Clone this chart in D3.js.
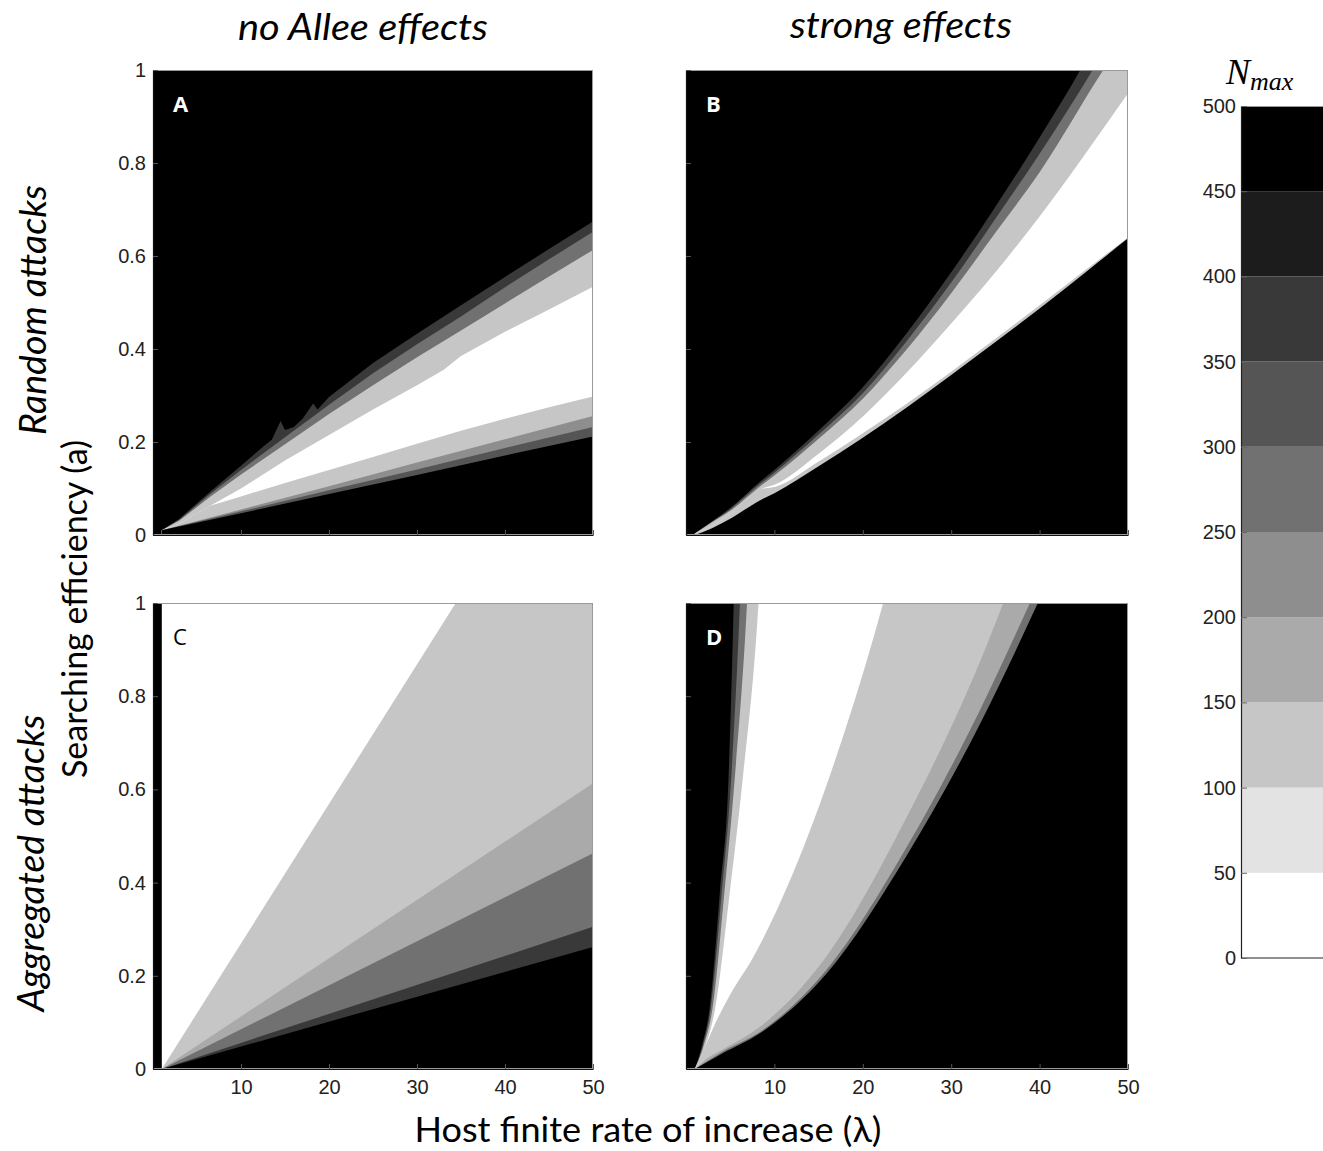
<!DOCTYPE html>
<html><head><meta charset="utf-8">
<script src="https://cdn.jsdelivr.net/npm/d3@7"></script>
<style>body{margin:0;background:#fff}</style>
</head><body>
<svg id="chart" width="1323" height="1151" xmlns="http://www.w3.org/2000/svg"></svg>
<script>
// ---------------- DATA ----------------
const nmaxBreaks = [50, 100, 150, 200, 250, 300, 350, 400, 450];
const nmaxTicks = [0, 50, 100, 150, 200, 250, 300, 350, 400, 450, 500];
const nmaxBands = [[0,50],[50,100],[100,150],[150,200],[200,250],[250,300],[300,350],[350,400],[400,450],[450,500]];
const xTicks = [10, 20, 30, 40, 50];
const yTicks = [0, 0.2, 0.4, 0.6, 0.8, 1];
const yTickLabels = ["0", "0.2", "0.4", "0.6", "0.8", "1"];
const columnTitles = ["no Allee effects", "strong effects"];
const rowTitles = ["Random attacks", "Aggregated attacks"];
const panelLetters = ["A", "B", "C", "D"];

// Each panel: boundary curves a(λ), ordered from top to bottom; the region
// below each boundary gets the Nmax value listed in the matching *_fills array.
// Panel A
const A_fills = [375, 275, 125, 25, 125, 225, 325, 475];
const A_e1 = [[1,0.01],[3,0.035],[6.5,0.093],[10,0.149],[12.5,0.19],[13.5,0.205],[14.5,0.245],[15,0.226],[16,0.232],[17,0.25],[18.2,0.283],[18.7,0.27],[20,0.297],[25,0.37],[30,0.433],[35,0.494],[40,0.555],[45,0.615],[50,0.674]];
const A_e2 = [[1,0.01],[3,0.033],[6.5,0.088],[10,0.14],[15,0.21],[20,0.28],[25,0.348],[30,0.41],[35,0.47],[40,0.533],[45,0.593],[50,0.652]];
const A_e3 = [[1,0.01],[3,0.031],[6.5,0.082],[10,0.13],[15,0.195],[20,0.26],[25,0.322],[30,0.382],[35,0.44],[40,0.498],[45,0.556],[50,0.613]];
const A_e4 = [[1,0.01],[3,0.025],[6.5,0.063],[10,0.1],[15,0.16],[20,0.215],[25,0.27],[30,0.322],[33,0.355],[35,0.385],[40,0.437],[45,0.485],[50,0.534]];
const A_e5 = [[1,0.01],[3,0.025],[6.5,0.063],[10,0.083],[15,0.112],[20,0.14],[25,0.168],[30,0.196],[35,0.224],[40,0.25],[45,0.275],[50,0.298]];
const A_e6 = [[1,0.01],[10,0.055],[20,0.105],[30,0.156],[40,0.206],[50,0.256]];
const A_e7 = [[1,0.01],[10,0.051],[20,0.096],[30,0.141],[40,0.187],[50,0.232]];
const A_e8 = [[1,0.01],[10,0.047],[20,0.088],[30,0.129],[40,0.171],[50,0.212]];

// Panel B
const B_fills = [375, 275, 125, 25, 125, 475];
const B_e1 = [[1,0.003],[3,0.03],[5,0.058],[8.4,0.115],[10,0.14],[15,0.225],[20,0.318],[25,0.435],[30,0.565],[35,0.706],[40,0.855],[44.6,1.0],[50,1.2]];
const B_e2 = [[1,0.003],[3,0.029],[5,0.055],[8.4,0.11],[10,0.134],[15,0.216],[20,0.305],[25,0.418],[30,0.543],[35,0.68],[40,0.82],[46,1.0],[50,1.13]];
const B_e3 = [[1,0.003],[3,0.028],[5,0.052],[8.4,0.105],[10,0.128],[15,0.207],[20,0.293],[25,0.4],[30,0.52],[35,0.65],[40,0.78],[47.2,1.0],[50,1.08]];
const B_e4 = [[1,0.003],[3,0.02],[5,0.045],[8.4,0.098],[10,0.108],[15,0.175],[20,0.255],[25,0.35],[30,0.455],[35,0.565],[40,0.685],[45,0.815],[50,0.95]];
const B_e5 = [[1,0.003],[3,0.02],[5,0.045],[8.4,0.098],[10,0.103],[15,0.158],[20,0.219],[25,0.283],[30,0.351],[35,0.422],[40,0.494],[45,0.567],[50,0.64]];
const B_e6 = [[1,0],[3,0.015],[5,0.035],[8.4,0.075],[10,0.09],[15,0.148],[20,0.209],[25,0.275],[30,0.344],[35,0.415],[40,0.487],[45,0.562],[50,0.638]];

// Panel C
const C_fills = [25, 125, 175, 275, 375, 475];
const C_e0 = [[1,1.5],[50,1.5]];
const C_e1 = [[1,0],[50,1.467]];
const C_e2 = [[1,0],[50,0.613]];
const C_e3 = [[1,0],[50,0.463]];
const C_e4 = [[1,0],[50,0.305]];
const C_e5 = [[1,0],[50,0.262]];

// Panel D
const D_fills = [375, 275, 125, 25, 125, 175, 275, 475];
const D_e1 = [[1,0],[1.8,0.05],[2.7,0.134],[3.85,0.384],[4.8,0.62],[5.4,1.0],[6,1.5],[50,1.5]];
const D_e2 = [[1,0],[1.9,0.05],[2.8,0.13],[4.0,0.37],[5.1,0.62],[6.1,1.0],[7,1.5],[50,1.5]];
const D_e3 = [[1,0],[2.0,0.05],[3.0,0.13],[4.3,0.37],[5.5,0.62],[6.9,1.0],[8,1.5],[50,1.5]];
const D_e4 = [[1,0],[2.2,0.05],[3.3,0.13],[4.9,0.37],[6.4,0.62],[8.2,1.0],[9.5,1.5],[50,1.5]];
const D_e5 = [[1,0],[2.2,0.05],[3,0.085],[5,0.16],[7.6,0.24],[12.1,0.42],[17,0.67],[22.3,1.0],[25,1.2],[50,1.5]];
const D_e6 = [[1,0],[2.2,0.02],[4,0.04],[8.4,0.091],[15.9,0.242],[24.9,0.538],[33.3,0.876],[35.9,1.0],[40,1.2],[50,1.5]];
const D_e7 = [[1,0],[4,0.036],[8.4,0.08],[15.9,0.213],[24.9,0.474],[33.3,0.772],[38.9,1.0],[42,1.13],[50,1.5]];
const D_e8 = [[1,0],[4,0.032],[8.4,0.077],[15.9,0.205],[24.9,0.456],[33.3,0.742],[39.8,1.0],[45,1.22],[50,1.4]];

// ---------------- DRAWING ----------------
const grays = ["#ffffff","#e3e3e3","#c6c6c6","#aaaaaa","#8e8e8e","#717171","#555555","#393939","#1c1c1c","#000000"];
const color = d3.scaleThreshold().domain(nmaxBreaks).range(grays);

const svg = d3.select("#chart");
const defs = svg.append("defs");

const xLeft = d3.scaleLinear().domain([0, 50]).range([153, 593]);
const xRight = d3.scaleLinear().domain([0, 50]).range([686, 1128]);
const yTop = d3.scaleLinear().domain([0, 1]).range([535, 70]);
const yBottom = d3.scaleLinear().domain([0, 1]).range([1069, 603]);

const panels = [
  {id: "A", x: xLeft, y: yTop, edges: [A_e1,A_e2,A_e3,A_e4,A_e5,A_e6,A_e7,A_e8], fills: A_fills, curve: d3.curveLinear, letterColor: "#fff", yLabels: true, xLabels: false},
  {id: "B", x: xRight, y: yTop, edges: [B_e1,B_e2,B_e3,B_e4,B_e5,B_e6], fills: B_fills, curve: d3.curveMonotoneX, letterColor: "#fff", yLabels: false, xLabels: false},
  {id: "C", x: xLeft, y: yBottom, edges: [C_e0,C_e1,C_e2,C_e3,C_e4,C_e5], fills: C_fills, curve: d3.curveLinear, letterColor: "#000", yLabels: true, xLabels: true},
  {id: "D", x: xRight, y: yBottom, edges: [D_e1,D_e2,D_e3,D_e4,D_e5,D_e6,D_e7,D_e8], fills: D_fills, curve: d3.curveMonotoneX, letterColor: "#fff", yLabels: false, xLabels: true}
];

const tickFont = "'Liberation Sans', Arial, Helvetica, sans-serif";

panels.forEach((p, pi) => {
  const [x0, x1] = p.x.range();
  const [yb, yt] = p.y.range();
  defs.append("clipPath").attr("id", "clip" + p.id)
    .append("rect").attr("x", x0).attr("y", yt).attr("width", x1 - x0).attr("height", yb - yt);
  const g = svg.append("g").attr("clip-path", `url(#clip${p.id})`);
  g.append("rect").attr("x", x0).attr("y", yt).attr("width", x1 - x0).attr("height", yb - yt)
    .attr("fill", color(475));
  const area = d3.area()
    .x(d => p.x(d[0]))
    .y0(p.y(0))
    .y1(d => p.y(d[1]))
    .curve(p.curve);
  p.edges.forEach((e, i) => {
    g.append("path").datum(e).attr("d", area).attr("fill", color(p.fills[i]));
  });

  // frame
  svg.append("rect").attr("x", x0 + 0.5).attr("y", yt + 0.5).attr("width", x1 - x0 - 1).attr("height", yb - yt - 1)
    .attr("fill", "none").attr("stroke", "#9a9a9a").attr("stroke-width", 1);

  const yAxis = d3.axisLeft(p.y).tickValues(yTicks)
    .tickFormat((d, i) => p.yLabels ? yTickLabels[i] : "")
    .tickSizeInner(-5).tickSizeOuter(0).tickPadding(7);
  const ga = svg.append("g").attr("transform", `translate(${x0},0)`).call(yAxis);
  ga.select(".domain").attr("stroke", "#111").attr("stroke-width", 1.2);
  ga.selectAll(".tick line").attr("stroke", "#555");
  ga.selectAll("text").attr("font-family", tickFont).attr("font-size", 20).attr("fill", "#222");

  const xAxis = d3.axisBottom(p.x).tickValues(xTicks)
    .tickFormat(d => p.xLabels ? d : "")
    .tickSizeInner(-5).tickSizeOuter(0).tickPadding(11);
  const gx = svg.append("g").attr("transform", `translate(0,${yb})`).call(xAxis);
  gx.select(".domain").attr("stroke", "#111").attr("stroke-width", 1.2);
  gx.selectAll(".tick line").attr("stroke", "#555");
  gx.selectAll("text").attr("font-family", tickFont).attr("font-size", 20).attr("fill", "#222");

  svg.append("text").attr("x", x0 + 20).attr("y", yt + 42)
    .attr("font-family", "'Open Sans', 'DejaVu Sans', sans-serif")
    .attr("font-weight", p.id === "C" ? 400 : 700)
    .attr("font-size", 22).attr("fill", p.letterColor).text(panelLetters[pi]);
});

// Column titles
const titleFont = "Lato, 'Open Sans', sans-serif";
svg.append("text").attr("x", 363).attr("y", 40).attr("text-anchor", "middle")
  .attr("font-family", titleFont).attr("font-style", "italic").attr("font-size", 36)
  .attr("textLength", 250).attr("lengthAdjust", "spacingAndGlyphs").text(columnTitles[0]);
svg.append("text").attr("x", 901).attr("y", 38).attr("text-anchor", "middle")
  .attr("font-family", titleFont).attr("font-style", "italic").attr("font-size", 36)
  .attr("textLength", 222).attr("lengthAdjust", "spacingAndGlyphs").text(columnTitles[1]);

// Row titles
svg.append("text").attr("transform", "translate(46,310) rotate(-90)").attr("text-anchor", "middle")
  .attr("font-family", titleFont).attr("font-style", "italic").attr("font-size", 36)
  .attr("textLength", 250).attr("lengthAdjust", "spacingAndGlyphs").text(rowTitles[0]);
svg.append("text").attr("transform", "translate(44,863) rotate(-90)").attr("text-anchor", "middle")
  .attr("font-family", titleFont).attr("font-style", "italic").attr("font-size", 36)
  .attr("textLength", 297).attr("lengthAdjust", "spacingAndGlyphs").text(rowTitles[1]);

// Axis titles
svg.append("text").attr("transform", "translate(87,609) rotate(-90)").attr("text-anchor", "middle")
  .attr("font-family", titleFont).attr("font-size", 34)
  .attr("textLength", 338).attr("lengthAdjust", "spacingAndGlyphs").text("Searching efficiency (a)");
svg.append("text").attr("x", 648).attr("y", 1142).attr("text-anchor", "middle")
  .attr("font-family", titleFont).attr("font-size", 34)
  .attr("textLength", 467).attr("lengthAdjust", "spacingAndGlyphs").text("Host finite rate of increase (λ)");

// Colorbar
const cbY = d3.scaleLinear().domain([0, 500]).range([958, 106]);
const cbX0 = 1241, cbX1 = 1323;
const cb = svg.append("g");
cb.selectAll("rect.band").data(nmaxBands).join("rect").attr("class", "band")
  .attr("x", cbX0).attr("width", cbX1 - cbX0)
  .attr("y", d => cbY(d[1])).attr("height", d => cbY(d[0]) - cbY(d[1]))
  .attr("fill", d => color((d[0] + d[1]) / 2));
cb.append("line").attr("x1", cbX0).attr("x2", cbX1).attr("y1", 106.5).attr("y2", 106.5).attr("stroke", "#999");
const cbAxis = d3.axisLeft(cbY).tickValues(nmaxTicks).tickSizeInner(-6).tickSizeOuter(0).tickPadding(5);
const gcb = svg.append("g").attr("transform", `translate(${cbX0},0)`).call(cbAxis);
gcb.select(".domain").attr("stroke", "#222").attr("stroke-width", 1.2);
gcb.selectAll(".tick line").attr("stroke", "#666");
gcb.selectAll("text").attr("font-family", tickFont).attr("font-size", 20).attr("fill", "#222");
cb.append("line").attr("x1", cbX0).attr("x2", cbX1).attr("y1", 958).attr("y2", 958).attr("stroke", "#222").attr("stroke-width", 1.2);

const nmaxLabel = svg.append("text").attr("x", 1226).attr("y", 84)
  .attr("font-family", "'Liberation Serif', 'DejaVu Serif', serif").attr("font-style", "italic");
nmaxLabel.append("tspan").attr("font-size", 36).text("N");
nmaxLabel.append("tspan").attr("font-size", 26).attr("dy", 6).text("max");
</script>
</body></html>
